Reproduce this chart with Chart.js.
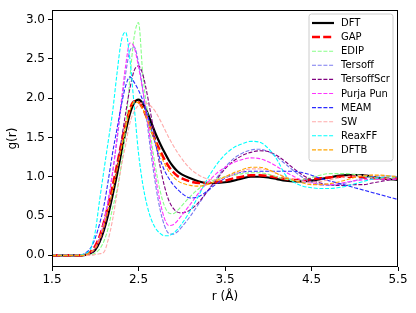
<!DOCTYPE html>
<html><head><meta charset="utf-8">
<script src="https://cdn.jsdelivr.net/npm/chart.js@4"></script>
<style>html,body{margin:0;padding:0;background:#fff}canvas{display:block}</style>
</head><body>
<canvas id="c" width="416" height="313"></canvas>
<script>
const r = [1.5,1.7,1.85,1.9,1.95,2.0,2.05,2.1,2.15,2.2,2.25,2.3,2.35,2.4,2.45,2.5,2.55,2.6,2.65,2.7,2.75,2.8,2.85,2.9,2.95,3.0,3.1,3.2,3.3,3.4,3.5,3.6,3.7,3.8,3.9,4.0,4.1,4.2,4.3,4.4,4.5,4.6,4.7,4.8,4.9,5.0,5.1,5.2,5.3,5.4,5.5];
const dft = [0,0,0,0.01,0.03,0.07,0.17,0.32,0.52,0.76,1.02,1.3,1.57,1.8,1.94,1.98,1.93,1.82,1.68,1.54,1.42,1.31,1.21,1.13,1.07,1.03,0.98,0.94,0.92,0.92,0.93,0.95,0.98,1.0,1.0,0.99,0.97,0.95,0.94,0.94,0.95,0.97,0.99,1.01,1.02,1.02,1.02,1.0,0.98,0.97,0.96];
const gap = [0,0,0,0.01,0.05,0.12,0.24,0.42,0.64,0.88,1.14,1.41,1.66,1.86,1.96,1.95,1.87,1.74,1.59,1.45,1.33,1.22,1.13,1.06,1.01,0.98,0.94,0.92,0.92,0.93,0.95,0.98,1.0,1.02,1.02,1.01,0.99,0.97,0.96,0.96,0.97,0.98,0.99,1.0,1.0,1.0,0.99,0.98,0.98,0.98,0.98];
const edip = [0,0,0,0,0.01,0.03,0.08,0.18,0.35,0.6,0.82,1.15,1.6,2.25,2.78,2.96,2.3,1.85,1.45,1.1,0.82,0.63,0.54,0.53,0.57,0.63,0.75,0.85,0.92,0.97,1.0,1.02,1.04,1.05,1.05,1.03,1.0,0.97,0.95,0.96,0.99,1.02,1.04,1.04,1.04,1.03,1.01,0.99,0.98,0.98,0.99];
const tersoff = [0,0,0,0.01,0.04,0.1,0.22,0.42,0.7,1.05,1.45,1.9,2.3,2.6,2.65,2.45,2.1,1.68,1.25,0.88,0.58,0.38,0.28,0.27,0.3,0.36,0.5,0.66,0.82,0.98,1.12,1.23,1.3,1.34,1.35,1.32,1.25,1.16,1.07,0.99,0.93,0.9,0.89,0.9,0.92,0.95,0.98,1.0,1.01,1.01,1.0];
const tersoffScr = [0,0,0,0.01,0.03,0.08,0.18,0.34,0.56,0.82,1.12,1.45,1.8,2.12,2.35,2.41,2.3,2.05,1.75,1.43,1.13,0.88,0.7,0.6,0.55,0.54,0.58,0.68,0.82,0.96,1.1,1.2,1.27,1.31,1.33,1.32,1.27,1.19,1.1,1.02,0.96,0.92,0.9,0.89,0.89,0.9,0.9,0.92,0.94,0.96,0.97];
const purjaPun = [0,0,0,0.01,0.04,0.1,0.22,0.42,0.7,1.05,1.48,1.95,2.4,2.7,2.65,2.4,2.1,1.75,1.35,0.98,0.68,0.47,0.38,0.39,0.44,0.51,0.65,0.8,0.93,1.04,1.12,1.18,1.22,1.24,1.23,1.19,1.13,1.06,1.0,0.95,0.92,0.9,0.9,0.91,0.93,0.95,0.96,0.97,0.97,0.97,0.97];
const meam = [0,0,0.01,0.04,0.1,0.22,0.4,0.63,0.95,1.3,1.6,1.9,2.15,2.27,2.2,2.1,1.97,1.8,1.6,1.4,1.22,1.08,0.98,0.9,0.84,0.79,0.73,0.75,0.82,0.91,0.98,1.03,1.06,1.07,1.07,1.07,1.07,1.07,1.07,1.05,1.02,0.98,0.95,0.92,0.89,0.86,0.83,0.8,0.77,0.74,0.71];
const sw = [0,0,0,0,0,0.01,0.02,0.04,0.2,0.45,0.78,1.12,1.4,1.68,1.83,1.91,1.94,1.93,1.89,1.82,1.72,1.61,1.5,1.4,1.31,1.23,1.1,1.02,0.97,0.96,0.99,1.03,1.07,1.1,1.1,1.08,1.04,1.0,0.96,0.94,0.93,0.94,0.96,0.98,1.0,1.01,1.02,1.02,1.01,1.0,1.0];
const reaxff = [0,0,0.01,0.03,0.09,0.3,0.7,1.08,1.45,1.82,2.3,2.72,2.84,2.5,1.9,1.3,0.9,0.63,0.45,0.34,0.28,0.25,0.25,0.28,0.33,0.4,0.57,0.77,0.98,1.15,1.28,1.37,1.42,1.45,1.44,1.36,1.22,1.02,0.93,0.88,0.86,0.85,0.85,0.86,0.88,0.91,0.94,0.97,0.99,1.0,1.0];
const dftb = [0,0,0,0.01,0.04,0.09,0.2,0.37,0.58,0.82,1.08,1.36,1.62,1.84,1.95,1.94,1.86,1.73,1.58,1.43,1.29,1.17,1.07,1.0,0.95,0.92,0.89,0.88,0.9,0.95,1.0,1.05,1.09,1.12,1.12,1.09,1.04,0.99,0.95,0.92,0.9,0.9,0.91,0.93,0.96,0.99,1.01,1.02,1.02,1.01,1.0];

const seriesLabels = ['DFT','GAP','EDIP','Tersoff','TersoffScr','Purja Pun','MEAM','SW','ReaxFF','DFTB'];
const seriesValues = [dft, gap, edip, tersoff, tersoffScr, purjaPun, meam, sw, reaxff, dftb];
const xTicks = [1.5, 2.5, 3.5, 4.5, 5.5];
const yTicks = [0, 0.5, 1.0, 1.5, 2.0, 2.5, 3.0];
const xTitle = 'r (Å)';
const yTitle = 'g(r)';

const styles = [
  {color:'#000000', width:2.2, dash:[]},
  {color:'#ff0000', width:2.5, dash:[8,3.2]},
  {color:'#88ff88', width:1.1, dash:[4,1.7]},
  {color:'#7b7bf0', width:1.1, dash:[4,1.7]},
  {color:'#800080', width:1.1, dash:[4,1.7]},
  {color:'#ff33ff', width:1.1, dash:[4,1.7]},
  {color:'#2a2aff', width:1.1, dash:[4,1.7]},
  {color:'#ffaaaa', width:1.1, dash:[4,1.7]},
  {color:'#00ffff', width:1.1, dash:[4,1.7]},
  {color:'#ffa500', width:1.1, dash:[4,1.7]}
];

const FONT = "'DejaVu Sans', sans-serif";

const datasets = seriesLabels.map((lab, i) => ({
  label: lab,
  data: r.map((x, j) => ({x: x, y: seriesValues[i][j]})),
  borderColor: styles[i].color,
  backgroundColor: styles[i].color,
  borderWidth: styles[i].width,
  borderDash: styles[i].dash,
  pointRadius: 0,
  fill: false,
  cubicInterpolationMode: 'monotone',
  order: seriesLabels.length - i
}));

const frameAndLegend = {
  id: 'frameAndLegend',
  afterDraw(chart) {
    const ctx = chart.ctx, ca = chart.chartArea;
    ctx.save();
    ctx.setLineDash([]);
    ctx.strokeStyle = '#000';
    ctx.lineWidth = 1;
    ctx.strokeRect(Math.round(ca.left) + 0.5, Math.round(ca.top) + 0.5,
                   Math.round(ca.right - ca.left) - 1, Math.round(ca.bottom - ca.top) - 1);
    const bx = 309, by = 14, bw = 84, bh = 147, rad = 2.5;
    ctx.beginPath();
    ctx.moveTo(bx + rad, by);
    ctx.lineTo(bx + bw - rad, by); ctx.quadraticCurveTo(bx + bw, by, bx + bw, by + rad);
    ctx.lineTo(bx + bw, by + bh - rad); ctx.quadraticCurveTo(bx + bw, by + bh, bx + bw - rad, by + bh);
    ctx.lineTo(bx + rad, by + bh); ctx.quadraticCurveTo(bx, by + bh, bx, by + bh - rad);
    ctx.lineTo(bx, by + rad); ctx.quadraticCurveTo(bx, by, bx + rad, by);
    ctx.closePath();
    ctx.fillStyle = 'rgba(255,255,255,0.8)';
    ctx.fill();
    ctx.strokeStyle = '#cccccc';
    ctx.lineWidth = 1;
    ctx.stroke();
    ctx.font = '10px ' + FONT;
    ctx.textBaseline = 'middle';
    ctx.textAlign = 'left';
    seriesLabels.forEach((lab, i) => {
      const y = 23 + i * 14.1;
      ctx.beginPath();
      ctx.setLineDash(styles[i].dash);
      ctx.strokeStyle = styles[i].color;
      ctx.lineWidth = styles[i].width;
      ctx.moveTo(312, y); ctx.lineTo(334, y);
      ctx.stroke();
      ctx.setLineDash([]);
      ctx.fillStyle = '#000';
      ctx.fillText(lab, 341, y + 0.5);
    });
    ctx.restore();
  }
};

new Chart(document.getElementById('c'), {
  type: 'line',
  data: { datasets: datasets },
  options: {
    responsive: false,
    devicePixelRatio: 1,
    animation: false,
    events: [],
    layout: { padding: { left: 0, right: 18, top: 10, bottom: 0 } },
    plugins: { legend: { display: false }, tooltip: { enabled: false } },
    scales: {
      x: {
        type: 'linear',
        min: 1.5, max: 5.5,
        afterBuildTicks: s => { s.ticks = xTicks.map(v => ({value: v})); },
        afterFit: s => { s.height = 46; },
        ticks: { font: { family: FONT, size: 12 }, color: '#000', padding: 2,
                 maxRotation: 0, autoSkip: false, callback: v => Number(v).toFixed(1) },
        grid: { drawOnChartArea: false, drawTicks: true, tickLength: 4, color: '#000', tickWidth: 1 },
        border: { display: false },
        title: { display: true, text: xTitle, font: { family: FONT, size: 12 }, color: '#000',
                 padding: { top: 0, bottom: 9 } }
      },
      y: {
        type: 'linear',
        min: -0.148, max: 3.118,
        afterBuildTicks: s => { s.ticks = yTicks.map(v => ({value: v})); },
        afterFit: s => { s.width = 52; },
        ticks: { font: { family: FONT, size: 12 }, color: '#000', padding: 3,
                 autoSkip: false, callback: v => Number(v).toFixed(1) },
        grid: { drawOnChartArea: false, drawTicks: true, tickLength: 4, color: '#000', tickWidth: 1 },
        border: { display: false },
        title: { display: true, text: yTitle, font: { family: FONT, size: 12 }, color: '#000',
                 padding: { top: 6, bottom: 0 } }
      }
    }
  },
  plugins: [frameAndLegend]
});
</script>
</body></html>
